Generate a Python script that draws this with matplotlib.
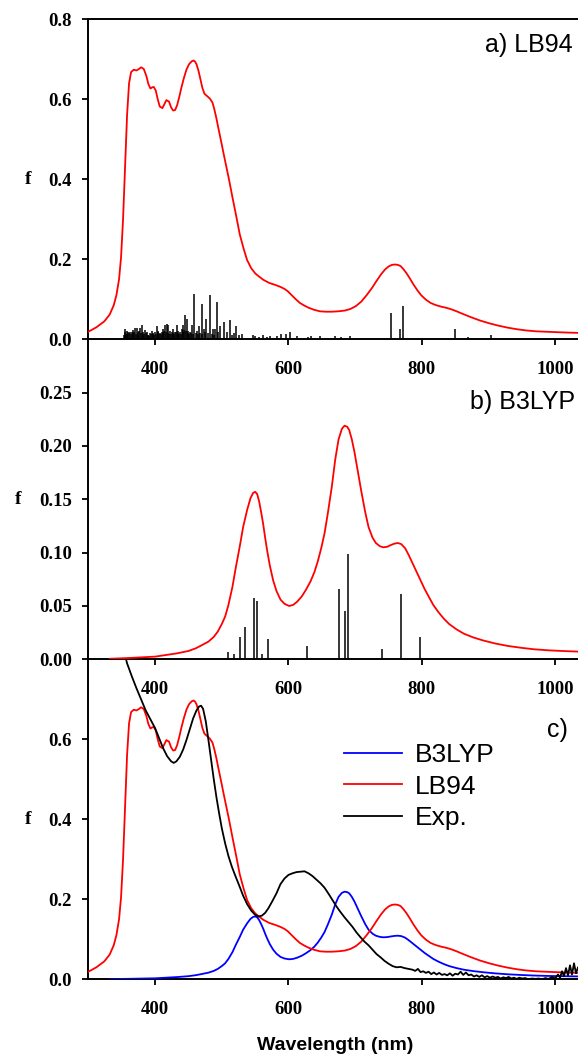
import matplotlib
matplotlib.use("Agg")
import matplotlib.pyplot as plt
from matplotlib.ticker import FormatStrFormatter

# ---------------- data ----------------
# LB94 simulated spectrum (nm, f)
lb94_nm = [300, 312, 324, 332, 338, 342, 346, 349, 352, 355, 358, 361, 364, 368, 372, 376, 379,
           383, 387, 390, 393, 396, 398, 401, 404, 407, 411, 414, 417, 421, 424, 427, 430, 433,
           436, 439, 443, 447, 451, 455, 458, 460, 462, 465, 468, 471, 474, 478, 482, 486, 489,
           492, 495, 499, 503, 507, 511, 516, 522, 527, 533, 538, 544, 550, 555, 562, 571, 580,
           588, 594, 599, 605, 611, 617, 623, 630, 638, 647, 656, 665, 675, 685, 693, 701, 709,
           717, 725, 732, 739, 745, 750, 755, 760, 764, 768, 772, 777, 782, 787, 793, 799, 806,
           813, 820, 828, 836, 844, 852, 862, 874, 887, 901, 915, 929, 943, 957, 971, 985, 1000,
           1015, 1035]
lb94_f = [0.019, 0.030, 0.045, 0.062, 0.085, 0.110, 0.150, 0.205, 0.300, 0.430, 0.560, 0.640,
          0.668, 0.674, 0.672, 0.676, 0.680, 0.676, 0.658, 0.638, 0.627, 0.630, 0.631, 0.622,
          0.600, 0.582, 0.578, 0.588, 0.598, 0.594, 0.580, 0.572, 0.573, 0.585, 0.604, 0.626,
          0.652, 0.674, 0.688, 0.695, 0.697, 0.694, 0.688, 0.672, 0.650, 0.628, 0.614, 0.608,
          0.602, 0.592, 0.574, 0.552, 0.527, 0.495, 0.462, 0.430, 0.398, 0.355, 0.305, 0.262,
          0.225, 0.198, 0.178, 0.165, 0.158, 0.149, 0.141, 0.136, 0.131, 0.126, 0.120, 0.110,
          0.100, 0.091, 0.085, 0.079, 0.074, 0.070, 0.069, 0.069, 0.070, 0.072, 0.076, 0.083,
          0.094, 0.110, 0.128, 0.146, 0.163, 0.175, 0.182, 0.186, 0.187, 0.186, 0.183, 0.176,
          0.165, 0.152, 0.138, 0.123, 0.110, 0.099, 0.091, 0.086, 0.082, 0.079, 0.075, 0.070,
          0.063, 0.055, 0.047, 0.040, 0.034, 0.029, 0.025, 0.022, 0.020, 0.019, 0.018, 0.017,
          0.016]

# LB94 excitations (sticks)
lb94_stick_nm = [353, 355, 357.4, 359.8, 362.4, 365, 367.4, 370, 372.5, 374.9, 377.4, 380,
                 382.4, 385, 387.5, 390, 392.5, 395, 397.4, 400, 402.5, 405, 407.5, 410, 412.5,
                 415, 417.6, 420, 422.6, 425, 427.5, 430, 432.6, 435, 437.6, 440, 442.5, 445,
                 447.7, 450, 452.6, 456, 459, 462.7, 466, 469.6, 472.6, 476, 482.7, 486.7, 490,
                 492.8, 495, 496.7, 502.7, 507.8, 511.8, 515.3, 518.8, 521.8, 525.3, 530.4,
                 540.3, 546.9, 549.4, 555.3, 561.9, 568, 571.9, 583, 589, 597, 603, 613, 629,
                 633.5, 647, 669, 678.6, 692.4, 753, 767, 772.4, 849.7, 869, 903,
                 354.2, 356.2, 358.6, 361.1, 363.7, 366.2, 368.7, 371.2, 373.7, 376.1,
                 378.7, 381.2, 383.7, 386.2, 388.7, 391.2, 393.7, 396.2, 398.7, 401.2,
                 403.7, 406.2, 408.7, 411.2, 413.7, 416.3, 418.8, 421.3, 423.8, 426.2,
                 428.7, 431.3, 433.8, 436.3, 438.8, 441.2, 443.7, 446.3, 448.8, 451.3,
                 454.3, 457.5, 460.8, 464.3, 467.8, 471, 474.3, 479, 484.7, 488.3]
lb94_stick_f = [0.010, 0.025, 0.021, 0.017, 0.018, 0.017, 0.023, 0.027, 0.028, 0.017, 0.0275,
                0.035, 0.018, 0.023, 0.017, 0.010, 0.015, 0.021, 0.0125, 0.017, 0.033, 0.021,
                0.015, 0.017, 0.025, 0.035, 0.0375, 0.035, 0.021, 0.017, 0.025, 0.017, 0.035,
                0.021, 0.017, 0.025, 0.035, 0.060, 0.050, 0.021, 0.017, 0.035, 0.113, 0.021,
                0.033, 0.087, 0.025, 0.050, 0.110, 0.025, 0.025, 0.094, 0.017, 0.032, 0.044,
                0.017, 0.047, 0.010, 0.015, 0.034, 0.010, 0.0125, 0.004, 0.010, 0.008, 0.0067,
                0.010, 0.0067, 0.008, 0.008, 0.0125, 0.0125, 0.017, 0.008, 0.005, 0.007, 0.007,
                0.007, 0.005, 0.007, 0.065, 0.026, 0.084, 0.026, 0.005, 0.011,
                0.018, 0.014, 0.012, 0.015, 0.013, 0.016, 0.019, 0.014, 0.012, 0.020,
                0.016, 0.013, 0.012, 0.015, 0.011, 0.009, 0.013, 0.016, 0.010, 0.014,
                0.018, 0.012, 0.013, 0.015, 0.020, 0.018, 0.016, 0.014, 0.012, 0.015,
                0.013, 0.019, 0.015, 0.012, 0.014, 0.018, 0.022, 0.020, 0.015, 0.012,
                0.016, 0.014, 0.015, 0.012, 0.016, 0.014, 0.018, 0.015, 0.013, 0.010]

# B3LYP simulated spectrum
b3lyp_nm = [332, 360, 400, 433, 450, 461, 470, 480, 488, 494, 500, 505, 510, 516, 521, 527,
            532, 538, 543, 547, 550, 553, 556, 559, 562, 565, 568, 572, 577, 582, 588, 594,
            601, 607, 613, 620, 626, 633, 639, 644, 649, 654, 659, 665, 670, 675, 680, 684,
            688, 691, 695, 699, 704, 709, 715, 720, 726, 731, 737, 742, 748, 753, 759, 764,
            769, 775, 780, 786, 792, 798, 804, 810, 817, 825, 833, 841, 852, 863, 877, 891,
            910, 929, 950, 968, 990, 1010, 1035]
b3lyp_f = [0.0005, 0.0012, 0.0025, 0.0056, 0.0078, 0.0103, 0.0132, 0.0166, 0.0210, 0.0260,
           0.0330, 0.0400, 0.0510, 0.0680, 0.0860, 0.1060, 0.1240, 0.1400, 0.1510, 0.1560,
           0.1570, 0.1550, 0.1480, 0.1380, 0.1270, 0.1140, 0.1020, 0.0880, 0.0740, 0.0640,
           0.0560, 0.0520, 0.0500, 0.0510, 0.0540, 0.0590, 0.0650, 0.0730, 0.0820, 0.0920,
           0.1040, 0.1180, 0.1370, 0.1620, 0.1870, 0.2060, 0.2160, 0.2190, 0.2180, 0.2150,
           0.2060, 0.1940, 0.1760, 0.1580, 0.1380, 0.1240, 0.1140, 0.1090, 0.1060, 0.1050,
           0.1055, 0.1070, 0.1085, 0.1090, 0.1080, 0.1040, 0.0980, 0.0900, 0.0820, 0.0740,
           0.0660, 0.0590, 0.0510, 0.0440, 0.0380, 0.0330, 0.0280, 0.0240, 0.0205, 0.0178,
           0.0148, 0.0125, 0.0107, 0.0094, 0.0084, 0.0078, 0.0072]

# B3LYP excitations (sticks)
b3lyp_stick_nm = [509, 518.5, 526.9, 534.6, 548.4, 552.8, 561, 569.3, 628.3, 675.2, 684.6,
                  689.6, 740.4, 769, 797.8]
b3lyp_stick_f = [0.007, 0.005, 0.0206, 0.030, 0.057, 0.055, 0.005, 0.019, 0.0125, 0.0656,
                 0.0456, 0.099, 0.010, 0.061, 0.0206]

# Experimental spectrum
exp_nm = [352, 358, 365, 372, 379, 386, 393, 400, 406, 412, 418, 424, 428, 432, 437, 442, 447,
          452, 457, 462, 466, 469, 472, 476, 480, 484, 488, 492, 496, 500, 505, 510, 515, 520,
          526, 532, 538, 544, 550, 555, 560, 565, 570, 576, 582, 588, 594, 600, 606, 612, 618,
          624, 630, 636, 642, 648, 654, 660, 666, 672, 678, 684, 690, 696, 702, 708, 714, 720,
          726, 732, 738, 744, 750, 756, 762, 768, 774, 780, 786, 790, 794, 798, 802, 806, 810,
          814, 818, 822, 826, 830, 834, 838, 842, 846, 850, 854, 858, 862, 866, 870, 874, 878,
          882, 886, 890, 894, 898, 902, 906, 910, 914, 918, 922, 926, 930, 934, 938, 942, 946,
          950, 955, 960, 965, 970, 975, 980, 985, 990, 995, 1000, 1004, 1007, 1010, 1013, 1016,
          1019, 1022, 1025, 1028, 1031, 1034, 1036]
exp_f = [0.830, 0.790, 0.758, 0.728, 0.700, 0.672, 0.650, 0.628, 0.603, 0.578, 0.558, 0.545,
         0.541, 0.545, 0.556, 0.574, 0.598, 0.625, 0.652, 0.672, 0.682, 0.684, 0.676, 0.645,
         0.598, 0.548, 0.500, 0.455, 0.415, 0.378, 0.340, 0.308, 0.282, 0.260, 0.235, 0.209,
         0.188, 0.172, 0.161, 0.157, 0.159, 0.166, 0.178, 0.196, 0.215, 0.238, 0.252, 0.261,
         0.265, 0.268, 0.269, 0.270, 0.265, 0.258, 0.249, 0.240, 0.229, 0.214, 0.198, 0.182,
         0.168, 0.155, 0.143, 0.131, 0.117, 0.105, 0.094, 0.085, 0.074, 0.063, 0.055, 0.046,
         0.039, 0.033, 0.030, 0.031, 0.028, 0.026, 0.024, 0.021, 0.026, 0.018, 0.020, 0.016,
         0.019, 0.013, 0.017, 0.012, 0.016, 0.011, 0.013, 0.010, 0.015, 0.009, 0.014, 0.012,
         0.019, 0.011, 0.017, 0.010, 0.012, 0.007, 0.010, 0.006, 0.010, 0.005, 0.008, 0.004,
         0.007, 0.004, 0.006, 0.002, 0.005, 0.003, 0.006, 0.002, 0.004, 0.001, 0.004, 0.002,
         0.003, 0.000, 0.002, 0.001, 0.002, 0.000, 0.003, 0.001, 0.006, 0.002, 0.012, 0.004,
         0.020, 0.008, 0.028, 0.010, 0.035, 0.012, 0.040, 0.015, 0.030, 0.018]

x_ticks = [400, 600, 800, 1000]
y_ticks_a = [0.0, 0.2, 0.4, 0.6, 0.8]
y_ticks_b = [0.00, 0.05, 0.10, 0.15, 0.20, 0.25]
y_ticks_c = [0.0, 0.2, 0.4, 0.6]
legend_labels = ["B3LYP", "LB94", "Exp."]
panel_titles = ["a) LB94", "b) B3LYP", "c)"]

# ---------------- figure ----------------
W, H = 578, 1055
fig = plt.figure(figsize=(W / 100, H / 100), dpi=100)

serif = ["Liberation Serif", "DejaVu Serif"]
sans = ["Liberation Sans", "DejaVu Sans"]

left = 87.7 / W
width = 1.0 - left
ph = 320 / H
bottoms = [(H - 339.3) / H, (H - 659.3) / H, (H - 979.3) / H]

axes = []
for b in bottoms:
    ax = fig.add_axes([left, b, width, ph])
    ax.set_facecolor("none")
    axes.append(ax)

ax_a, ax_b, ax_c = axes

RED = "#FF0000"
BLUE = "#0000FF"

# Panel a
ax_a.plot(lb94_nm, lb94_f, color=RED, lw=1.3, zorder=3)
ax_a.vlines(lb94_stick_nm, 0, lb94_stick_f, color="black", lw=1.1, zorder=2)
ax_a.set_ylim(0, 0.8)
ax_a.set_yticks(y_ticks_a)
ax_a.yaxis.set_major_formatter(FormatStrFormatter("%.1f"))

# Panel b
ax_b.plot(b3lyp_nm, b3lyp_f, color=RED, lw=1.3, zorder=3)
ax_b.vlines(b3lyp_stick_nm, 0, b3lyp_stick_f, color="black", lw=1.1, zorder=2)
ax_b.set_ylim(0, 0.30)
ax_b.set_yticks(y_ticks_b)
ax_b.yaxis.set_major_formatter(FormatStrFormatter("%.2f"))

# Panel c
l1, = ax_c.plot(b3lyp_nm, b3lyp_f, color=BLUE, lw=1.3, zorder=3)
l2, = ax_c.plot(lb94_nm, lb94_f, color=RED, lw=1.3, zorder=3)
l3, = ax_c.plot(exp_nm, exp_f, color="black", lw=1.3, zorder=4)
ax_c.set_ylim(0, 0.8)
ax_c.set_yticks(y_ticks_c)
ax_c.yaxis.set_major_formatter(FormatStrFormatter("%.1f"))

leg = ax_c.legend([l1, l2, l3], legend_labels, loc="upper left",
                  bbox_to_anchor=(0.522, 0.738), frameon=False, borderpad=0,
                  borderaxespad=0, handlelength=2.2, handletextpad=0.5,
                  labelspacing=0.28, prop={"family": sans, "size": 19})

for ax in axes:
    ax.set_xlim(299, 1034)
    ax.set_xticks(x_ticks)
    ax.spines["right"].set_visible(False)
    for s in ["left", "bottom", "top"]:
        ax.spines[s].set_linewidth(1.4)
    ax.tick_params(direction="out", length=4.3, width=1.3, pad=11, labelsize=13.5)
    ax.tick_params(axis="y", pad=7)
    for lab in ax.get_xticklabels() + ax.get_yticklabels():
        lab.set_family(serif)
        lab.set_fontweight("bold")
    ax.set_ylabel("f", family=serif, fontweight="bold", fontsize=14, labelpad=15,
                  rotation=0, va="center", ha="center")

ax_b.spines["top"].set_visible(False)
ax_c.spines["top"].set_visible(False)

ax_a.text(0.990, 0.920, panel_titles[0], transform=ax_a.transAxes, ha="right", va="center",
          family=sans, fontsize=18)
ax_b.text(0.994, 0.805, panel_titles[1], transform=ax_b.transAxes, ha="right", va="center",
          family=sans, fontsize=18)
ax_c.text(0.979, 0.779, panel_titles[2], transform=ax_c.transAxes, ha="right", va="center",
          family=sans, fontsize=18)

fig.text(335 / W, (H - 1045) / H, "Wavelength (nm)", ha="center", va="center",
         family=sans, fontweight="bold", fontsize=14)

fig.savefig("out.png", dpi=100)
